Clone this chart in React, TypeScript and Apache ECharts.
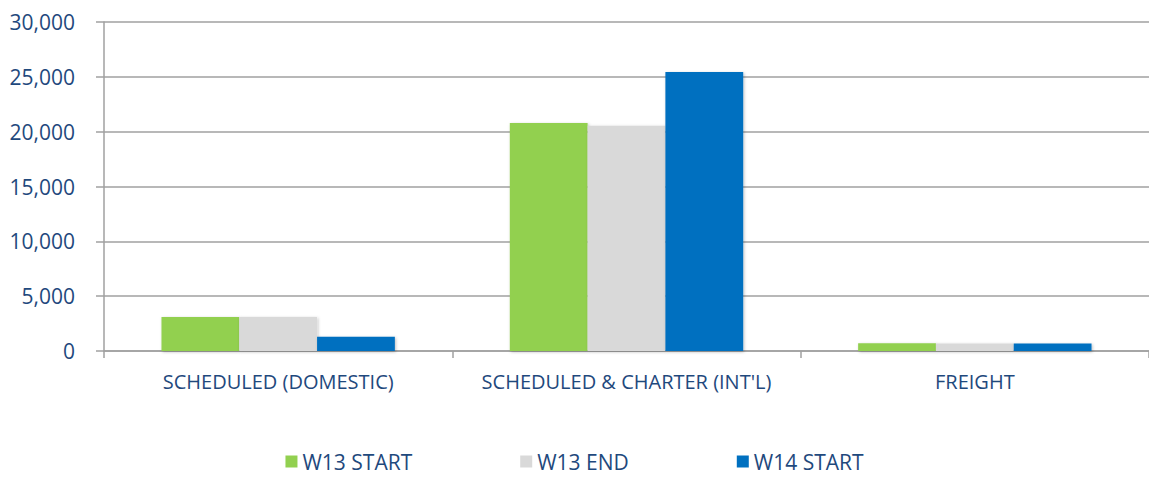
import React, { useEffect, useRef } from "react";
import * as echarts from "echarts";

const categories = ["SCHEDULED (DOMESTIC)", "SCHEDULED & CHARTER (INT'L)", "FREIGHT"];
const w13Start = [3100, 20800, 700];
const w13End = [3100, 20550, 680];
const w14Start = [1300, 25450, 680];
const seriesNames = ["W13 START", "W13 END", "W14 START"];
const colors = ["#92D050", "#D9D9D9", "#0070C0"];

const textColor = "#1F497D";
const gridColor = "#A0A0A0";
const font = "Open Sans";

export default function App() {
  const ref = useRef<HTMLDivElement>(null);
  useEffect(() => {
    const chart = echarts.init(ref.current!, undefined, { renderer: "svg" });
    const shadow = {
      shadowColor: "rgba(0,0,0,0.25)",
      shadowBlur: 3,
      shadowOffsetX: 1,
      shadowOffsetY: 1,
    };
    const data = [w13Start, w13End, w14Start];
    chart.setOption({
      animation: false,
      backgroundColor: "#ffffff",
      grid: { left: 104, top: 22, width: 1047, bottom: 126, containLabel: false },
      legend: {
        bottom: 0,
        left: "center",
        icon: "rect",
        itemWidth: 12,
        itemHeight: 12,
        itemGap: 108,
        textStyle: { color: textColor, fontSize: 21, fontFamily: font },
        data: seriesNames,
      },
      xAxis: {
        type: "category",
        data: categories,
        axisLine: { lineStyle: { color: gridColor, width: 1.5 } },
        axisTick: { show: true, length: 7, lineStyle: { color: gridColor, width: 1.5 } },
        axisLabel: {
          color: textColor,
          fontSize: 20,
          fontFamily: font,
          margin: 20,
          interval: 0,
          hideOverlap: false,
        },
      },
      yAxis: {
        type: "value",
        min: 0,
        max: 30000,
        interval: 5000,
        axisLine: { show: true, lineStyle: { color: gridColor, width: 1.5 } },
        axisTick: { show: true, length: 8, lineStyle: { color: gridColor, width: 1.5 } },
        splitLine: { lineStyle: { color: gridColor, width: 1.5 } },
        axisLabel: {
          color: textColor,
          fontSize: 21,
          fontFamily: font,
          margin: 29,
          formatter: (v: number) => v.toLocaleString("en-US"),
        },
      },
      series: seriesNames.map((name, i) => ({
        name,
        type: "bar",
        data: data[i],
        barGap: "0%",
        barCategoryGap: "33%",
        itemStyle: { color: colors[i], ...shadow },
      })),
    });
    return () => chart.dispose();
  }, []);
  return (
    <div
      ref={ref}
      style={{ position: "fixed", left: 0, top: 0, width: 1149, height: 477 }}
    />
  );
}
